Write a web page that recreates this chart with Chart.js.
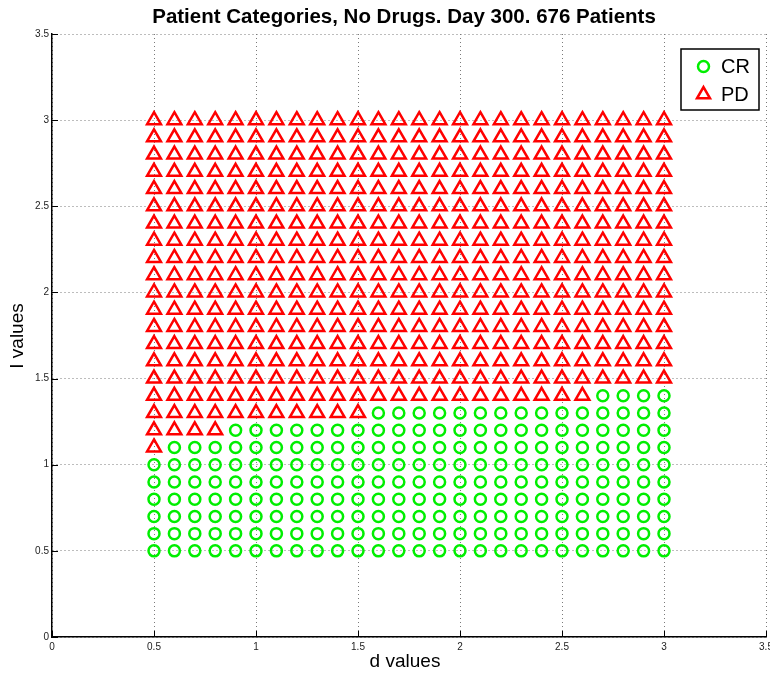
<!DOCTYPE html>
<html>
<head>
<meta charset="utf-8">
<script src="https://cdn.jsdelivr.net/npm/chart.js@4/dist/chart.umd.min.js"></script>
<style>
  html, body { margin: 0; padding: 0; background: #fff; }
  canvas { display: block; }
</style>
</head>
<body>
<canvas id="c" width="770" height="673"></canvas>
<script>
// Grid of simulated patients: d (x) and I (y) parameter values
const dValues = [0.5, 0.6, 0.7, 0.8, 0.9, 1.0, 1.1, 1.2, 1.3, 1.4, 1.5, 1.6, 1.7,
                 1.8, 1.9, 2.0, 2.1, 2.2, 2.3, 2.4, 2.5, 2.6, 2.7, 2.8, 2.9, 3.0];
const iValues = [0.5, 0.6, 0.7, 0.8, 0.9, 1.0, 1.1, 1.2, 1.3, 1.4, 1.5, 1.6, 1.7,
                 1.8, 1.9, 2.0, 2.1, 2.2, 2.3, 2.4, 2.5, 2.6, 2.7, 2.8, 2.9, 3.0];
// Highest I value still in complete response, for each d column
const crTopI = [1.0, 1.1, 1.1, 1.1, 1.2, 1.2, 1.2, 1.2, 1.2, 1.2, 1.2, 1.3, 1.3,
                1.3, 1.3, 1.3, 1.3, 1.3, 1.3, 1.3, 1.3, 1.3, 1.4, 1.4, 1.4, 1.4];
const axisTicks = [0, 0.5, 1, 1.5, 2, 2.5, 3, 3.5];
const seriesNames = ['CR', 'PD'];
const titleText = 'Patient Categories, No Drugs. Day 300. 676 Patients';

const crPoints = [];
const pdPoints = [];
dValues.forEach((d, col) => {
  iValues.forEach(iv => {
    if (iv <= crTopI[col] + 1e-9) crPoints.push({x: d, y: iv});
    else pdPoints.push({x: d, y: iv});
  });
});

const FONT = '"Liberation Sans", Arial, Helvetica, sans-serif';

const decorations = {
  id: 'decorations',
  afterDraw(chart) {
    const {ctx, chartArea: a, scales: {x, y}} = chart;
    ctx.save();
    // inward tick marks on left and bottom axes
    ctx.strokeStyle = '#000';
    ctx.lineWidth = 1;
    ctx.beginPath();
    axisTicks.forEach(t => {
      const px = Math.round(x.getPixelForValue(t)) + 0.5;
      ctx.moveTo(px, a.bottom);
      ctx.lineTo(px, a.bottom - 6);
      const py = Math.round(y.getPixelForValue(t)) + 0.5;
      ctx.moveTo(a.left, py);
      ctx.lineTo(a.left + 6, py);
    });
    ctx.stroke();

    // x tick labels (the last one runs off the canvas edge)
    ctx.fillStyle = '#222';
    ctx.textAlign = 'center';
    ctx.textBaseline = 'middle';
    ctx.font = '10px ' + FONT;
    axisTicks.forEach(t => {
      ctx.fillText(String(t), x.getPixelForValue(t), a.bottom + 10);
    });

    // title
    ctx.fillStyle = '#000';
    ctx.font = 'bold 20.5px ' + FONT;
    ctx.fillText(titleText, (a.left + a.right) / 2 - 5, 17);

    // axis titles
    ctx.font = '19px ' + FONT;
    ctx.fillText('d values', (a.left + a.right) / 2 - 4, 662);
    ctx.save();
    ctx.translate(18, 336);
    ctx.rotate(-Math.PI / 2);
    ctx.fillText('I values', 0, 0);
    ctx.restore();

    // legend box
    const lx = 681, ly = 49, lw = 78, lh = 61;
    ctx.fillStyle = '#fff';
    ctx.fillRect(lx, ly, lw, lh);
    ctx.strokeStyle = '#000';
    ctx.lineWidth = 1.5;
    ctx.strokeRect(lx, ly, lw, lh);

    ctx.lineWidth = 2.5;
    ctx.strokeStyle = '#00ee00';
    ctx.beginPath();
    ctx.arc(703.5, 66.5, 5.5, 0, Math.PI * 2);
    ctx.stroke();

    ctx.strokeStyle = '#ff0000';
    ctx.beginPath();
    const tr = 7.5, tcx = 703.5, tcy = 94.5;
    ctx.moveTo(tcx, tcy - tr);
    ctx.lineTo(tcx + tr * Math.sin(2 * Math.PI / 3), tcy - tr * Math.cos(2 * Math.PI / 3));
    ctx.lineTo(tcx - tr * Math.sin(2 * Math.PI / 3), tcy - tr * Math.cos(2 * Math.PI / 3));
    ctx.closePath();
    ctx.stroke();

    ctx.fillStyle = '#000';
    ctx.textAlign = 'left';
    ctx.font = '20px ' + FONT;
    ctx.fillText(seriesNames[0], 721, 67);
    ctx.fillText(seriesNames[1], 721, 95);
    ctx.restore();
  }
};

const axisCommon = {
  type: 'linear',
  min: 0,
  max: 3.5,
  afterBuildTicks(scale) {
    scale.ticks = axisTicks.map(v => ({value: v}));
  },
  grid: {
    color: '#7a7a7a',
    lineWidth: 1,
    drawTicks: false
  },
  border: {
    display: true,
    color: '#000',
    width: 1.5,
    dash: [1, 3]
  },
  ticks: {
    color: '#222',
    font: {family: FONT, size: 10},
    callback: v => String(v),
    autoSkip: false,
    maxRotation: 0
  }
};

new Chart(document.getElementById('c'), {
  type: 'scatter',
  data: {
    datasets: [
      {
        label: seriesNames[0],
        data: crPoints,
        pointStyle: 'circle',
        pointRadius: 5.5,
        pointHoverRadius: 5.5,
        borderWidth: 2.5,
        borderColor: '#00ee00',
        backgroundColor: 'rgba(0,0,0,0)'
      },
      {
        label: seriesNames[1],
        data: pdPoints,
        pointStyle: 'triangle',
        pointRadius: 8,
        pointHoverRadius: 8,
        borderWidth: 2.5,
        borderColor: '#ff0000',
        backgroundColor: 'rgba(0,0,0,0)'
      }
    ]
  },
  options: {
    responsive: false,
    animation: false,
    events: [],
    layout: {autoPadding: false, padding: {left: 0, right: 4, top: 34, bottom: 0}},
    plugins: {legend: {display: false}, title: {display: false}, tooltip: {enabled: false}},
    scales: {
      x: Object.assign({}, axisCommon, {
        position: 'bottom',
        ticks: Object.assign({}, axisCommon.ticks, {display: false}),
        afterFit(scale) { scale.height = 36; }
      }),
      y: Object.assign({}, axisCommon, {
        position: 'left',
        ticks: Object.assign({}, axisCommon.ticks, {padding: 3}),
        afterFit(scale) { scale.width = 52; }
      })
    }
  },
  plugins: [decorations]
});
</script>
</body>
</html>
